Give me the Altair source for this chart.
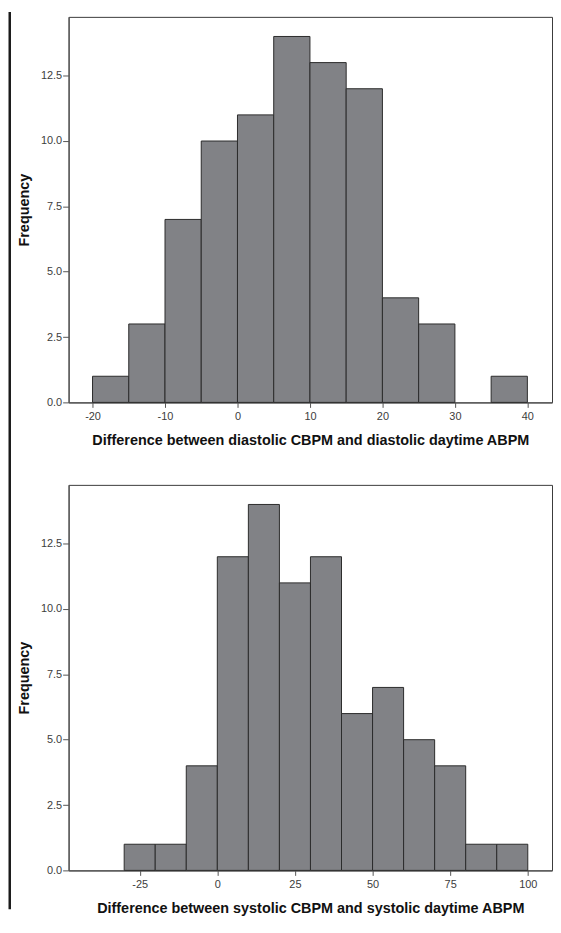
import altair as alt
import pandas as pd

# Diastolic difference histogram (bin width 5)
dia_start = [-20, -15, -10, -5, 0, 5, 10, 15, 20, 25, 30, 35]
dia_count = [1, 3, 7, 10, 11, 14, 13, 12, 4, 3, 0, 1]
dia_width = 5
dia_ticks = [-20, -10, 0, 10, 20, 30, 40]
dia_domain = [-23.3, 43.4]

# Systolic difference histogram (bin width 10)
sys_start = [-30, -20, -10, 0, 10, 20, 30, 40, 50, 60, 70, 80, 90]
sys_count = [1, 1, 4, 12, 14, 11, 12, 6, 7, 5, 4, 1, 1]
sys_width = 10
sys_ticks = [-25, 0, 25, 50, 75, 100]
sys_domain = [-47.9, 107.8]

y_ticks = [0, 2.5, 5, 7.5, 10, 12.5]
y_domain = [0, 14.75]

dia_title = "Difference between diastolic CBPM and diastolic daytime ABPM"
sys_title = "Difference between systolic CBPM and systolic daytime ABPM"

W = 486.5
H = 388

FONT = "Liberation Sans"


def make_df(starts, counts, width):
    df = pd.DataFrame({"start": starts, "count": counts})
    df["end"] = df["start"] + width
    return df[df["count"] > 0]


def panel(df, domain, ticks, xtitle, border=False):
    bars = alt.Chart(df).mark_rect(
        fill="#818286", stroke="#2b2b2b", strokeWidth=1
    ).encode(
        x=alt.X(
            "start:Q",
            scale=alt.Scale(domain=domain, nice=False, zero=False),
            axis=alt.Axis(
                values=ticks,
                labelExpr="'' + datum.value",
                title=xtitle,
                tickSize=5,
                labelPadding=3,
                titleX=W / 2,
                titleY=42.5,
                titleBaseline="alphabetic",
            ),
        ),
        x2="end:Q",
        y=alt.Y(
            "count:Q",
            scale=alt.Scale(domain=y_domain, nice=False),
            axis=alt.Axis(
                values=y_ticks,
                format=".1f",
                title="Frequency",
                tickSize=6,
                labelPadding=1,
                titleX=-40,
                titleY=H / 2,
                titleBaseline="alphabetic",
            ),
        ),
        y2=alt.datum(0),
    )
    layers = [bars]
    if border:
        # thick page border along the left edge (filled rect: exact bounds)
        left = alt.Chart(alt.Data(values=[{}])).mark_rect(
            fill="#1a1a1a", strokeWidth=0
        ).encode(
            x=alt.value(-60.5), x2=alt.value(-58),
            y=alt.value(-5), y2=alt.value(898),
        )
        layers += [left]
    return alt.layer(*layers).properties(width=W, height=H)


p1 = panel(make_df(dia_start, dia_count, dia_width), dia_domain, dia_ticks, dia_title, border=True)
p2 = panel(make_df(sys_start, sys_count, sys_width), sys_domain, sys_ticks, sys_title)

chart = alt.vconcat(p1, p2, spacing=83, bounds="flush").properties(
    padding=0,
    background="white",
).configure_view(
    stroke="#3a3a3a", strokeWidth=1
).configure_axis(
    labelFont=FONT,
    labelFontSize=11,
    labelColor="#3c3c3c",
    titleFont=FONT,
    titleFontSize=14.5,
    titleFontWeight="bold",
    titleColor="#111111",
    tickColor="#555555",
    domainColor="#555555",
    domainWidth=1.2,
    grid=False,
)

chart.save("out.html", embed_options={"renderer": "svg", "actions": False})
